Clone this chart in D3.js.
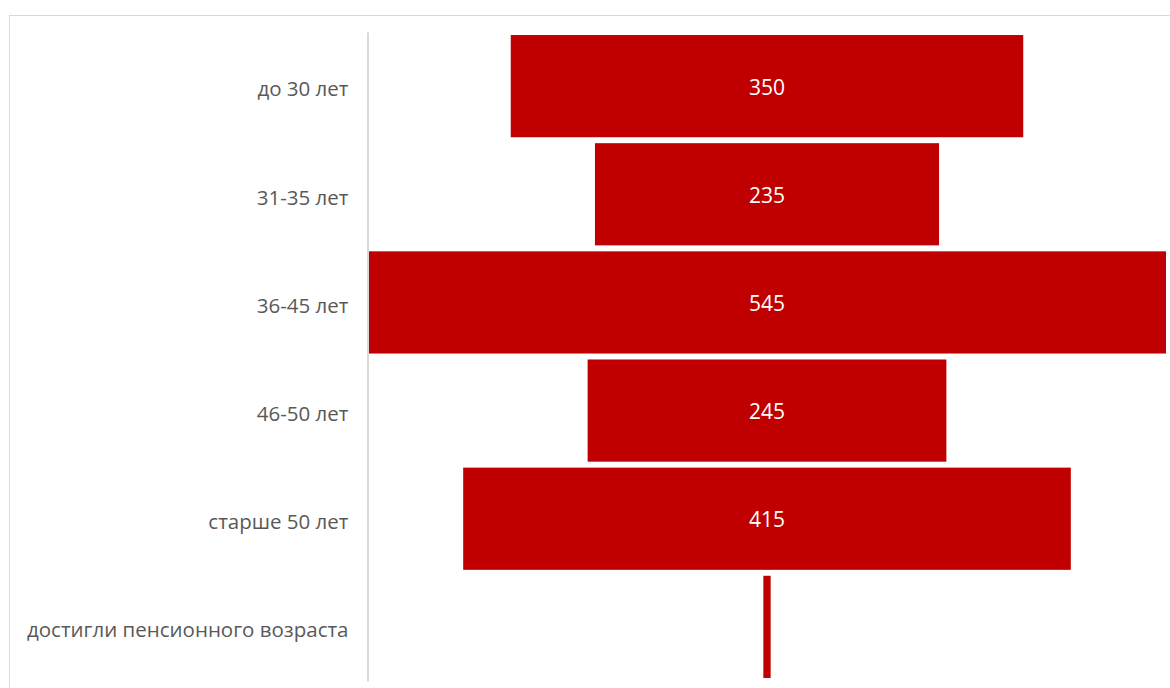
<!DOCTYPE html>
<html>
<head>
<meta charset="utf-8">
<script src="https://cdn.jsdelivr.net/npm/d3@7"></script>
<style>
  html, body { margin: 0; padding: 0; background: #ffffff; }
  svg { display: block; }
</style>
</head>
<body>
<svg id="chart" width="1170" height="688"></svg>
<script>
// Age groups of employees, drawn as a centred funnel
const categories = [
  "до 30 лет",
  "31-35 лет",
  "36-45 лет",
  "46-50 лет",
  "старше 50 лет",
  "достигли пенсионного возраста"
];
const values = [350, 235, 545, 245, 415, 5];
// Data labels are shown only for bars wide enough to hold them
const labelMinValue = 50;

const svg = d3.select("#chart");
const W = 1170, H = 688;

// Chart area frame
svg.append("rect")
  .attr("x", 9.5).attr("y", 15.5)
  .attr("width", W + 20).attr("height", H + 20)
  .attr("fill", "#ffffff")
  .attr("stroke", "#d9d9d9")
  .attr("stroke-width", 1);

const plot = { left: 368, right: 1166, top: 32, bottom: 681 };
const cx = (plot.left + plot.right) / 2;

const y = d3.scaleBand()
  .domain(categories)
  .range([plot.top, plot.bottom])
  .paddingInner(0.055)
  .paddingOuter(0.028);

// Half-width scale: each bar extends symmetrically from the centre
const half = d3.scaleLinear()
  .domain([0, d3.max(values)])
  .range([0, (plot.right - plot.left) / 2]);

const data = categories.map((c, i) => ({ cat: c, value: values[i] }));

svg.append("g").selectAll("rect")
  .data(data)
  .join("rect")
  .attr("x", d => cx - half(d.value))
  .attr("y", d => y(d.cat))
  .attr("width", d => 2 * half(d.value))
  .attr("height", y.bandwidth())
  .attr("fill", "#c00000");

// Value labels
svg.append("g").selectAll("text")
  .data(data.filter(d => d.value >= labelMinValue))
  .join("text")
  .attr("x", cx)
  .attr("y", d => y(d.cat) + y.bandwidth() / 2)
  .attr("dy", "0.4em")
  .attr("text-anchor", "middle")
  .attr("fill", "#ffffff")
  .style("font-family", "'Open Sans', sans-serif")
  .style("font-size", "21px")
  .text(d => d.value);

// Category axis on the left
const axis = d3.axisLeft(y).tickSize(0).tickPadding(19);
const gAxis = svg.append("g")
  .attr("transform", `translate(${plot.left - 0.5},0)`)
  .call(axis);
gAxis.select(".domain")
  .attr("stroke", "#d9d9d9")
  .attr("stroke-width", 2);
gAxis.selectAll("text")
  .attr("dy", "0.5em")
  .attr("fill", "#595959")
  .style("font-family", "'Open Sans', sans-serif")
  .style("font-size", "20.5px");
</script>
</body>
</html>
